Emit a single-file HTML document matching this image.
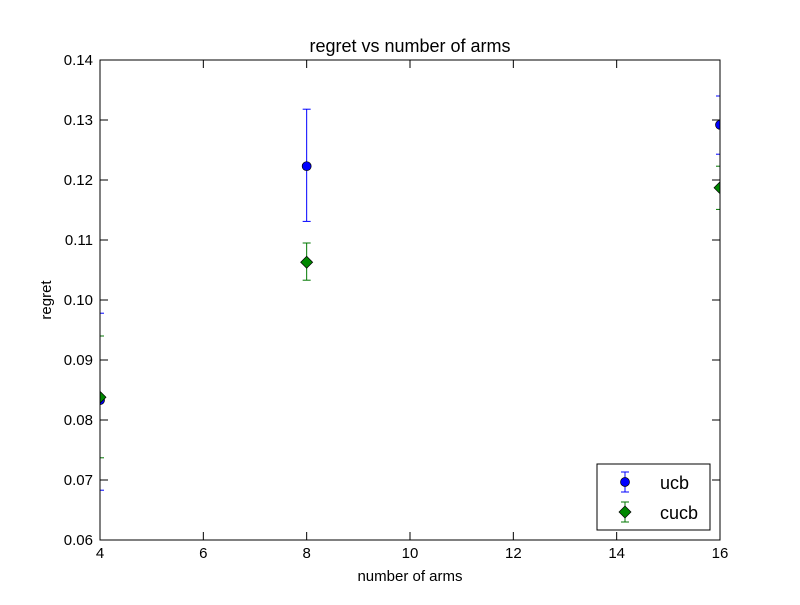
<!DOCTYPE html>
<html><head><meta charset="utf-8"><style>
body{margin:0;background:#fff;}
svg text{font-family:"Liberation Sans",sans-serif;}
</style></head><body>
<svg id="chart" width="800" height="600">
<rect width="800" height="600" fill="#fff"/>
<defs><clipPath id="pc"><rect x="100" y="60" width="620" height="480"/></clipPath></defs>
<g id="ticks"></g>
<g id="marks" clip-path="url(#pc)"></g>
<rect x="100" y="60" width="620" height="480" fill="none" stroke="#000"/>
<text x="410" y="52" text-anchor="middle" font-size="18">regret vs number of arms</text>
<text x="410" y="581" text-anchor="middle" font-size="15">number of arms</text>
<text x="51" y="300" text-anchor="middle" font-size="15" transform="rotate(-90 51 300)">regret</text>
<g>
<rect x="597" y="464" width="113" height="66" fill="#fff" stroke="#000"/>
<g>
<line x1="625" y1="472" x2="625" y2="492" stroke="#00f"/><line x1="621" y1="472" x2="629" y2="472" stroke="#00f"/><line x1="621" y1="492" x2="629" y2="492" stroke="#00f"/>
<circle cx="625" cy="482" r="4.5" fill="#00f" stroke="#000" stroke-width="0.7"/>
<text x="660" y="489" font-size="18">ucb</text></g>
<g>
<line x1="625" y1="502" x2="625" y2="522" stroke="#070"/><line x1="621" y1="502" x2="629" y2="502" stroke="#070"/><line x1="621" y1="522" x2="629" y2="522" stroke="#070"/>
<polygon points="625,506 631,512 625,518 619,512" fill="#080" stroke="#000" stroke-width="0.7"/>
<text x="660" y="519" font-size="18">cucb</text></g>
</g>
</svg>
<script>
const categories=[4,8,16];
const ucbVals=[0.0833,0.1223,0.1292];
const ucbLow=[0.0683,0.1131,0.1243];
const ucbHigh=[0.0978,0.1318,0.1340];
const cucbVals=[0.0838,0.1063,0.1187];
const cucbLow=[0.0737,0.1033,0.1151];
const cucbHigh=[0.0940,0.1095,0.1223];
const xTicks=[4,6,8,10,12,14,16];
const yTicks=[0.06,0.07,0.08,0.09,0.10,0.11,0.12,0.13,0.14];
const yLabels=["0.06","0.07","0.08","0.09","0.10","0.11","0.12","0.13","0.14"];
const NS="http://www.w3.org/2000/svg";
const X=v=>100+(v-4)/12*620, Y=v=>540-(v-0.06)/0.08*480;
function mk(tag,at,parent){const e=document.createElementNS(NS,tag);for(const k in at)e.setAttribute(k,at[k]);parent.appendChild(e);return e;}
const tg=document.getElementById('ticks'), mg=document.getElementById('marks');
xTicks.forEach(t=>{const x=X(t);
mk('line',{x1:x,x2:x,y1:540,y2:532,stroke:'#000'},tg);mk('line',{x1:x,x2:x,y1:60,y2:68,stroke:'#000'},tg);
const tx=mk('text',{x:x,y:558,'text-anchor':'middle','font-size':15},tg);tx.textContent=t;

});
yTicks.forEach((t,i)=>{const y=Y(t);
mk('line',{x1:100,x2:108,y1:y,y2:y,stroke:'#000'},tg);mk('line',{x1:720,x2:712,y1:y,y2:y,stroke:'#000'},tg);
const tx=mk('text',{x:93,y:y+5,'text-anchor':'end','font-size':15},tg);tx.textContent=yLabels[i];

});
function series(vals,lo,hi,col,name,diamond){
categories.forEach((c,i)=>{const x=X(c);
const g=mk('g',{},mg);


mk('line',{x1:x,x2:x,y1:Y(lo[i]),y2:Y(hi[i]),stroke:col},g);
mk('line',{x1:x-4,x2:x+4,y1:Y(lo[i]),y2:Y(lo[i]),stroke:col},g);
mk('line',{x1:x-4,x2:x+4,y1:Y(hi[i]),y2:Y(hi[i]),stroke:col},g);
const y=Y(vals[i]);
if(diamond)mk('polygon',{points:`${x},${y-6} ${x+6},${y} ${x},${y+6} ${x-6},${y}`,fill:'#080',stroke:'#000','stroke-width':0.7},g);
else mk('circle',{cx:x,cy:y,r:4.5,fill:'#00f',stroke:'#000','stroke-width':0.7},g);});}
series(ucbVals,ucbLow,ucbHigh,'#00f','ucb',false);
series(cucbVals,cucbLow,cucbHigh,'#070','cucb',true);
</script>
</body></html>
